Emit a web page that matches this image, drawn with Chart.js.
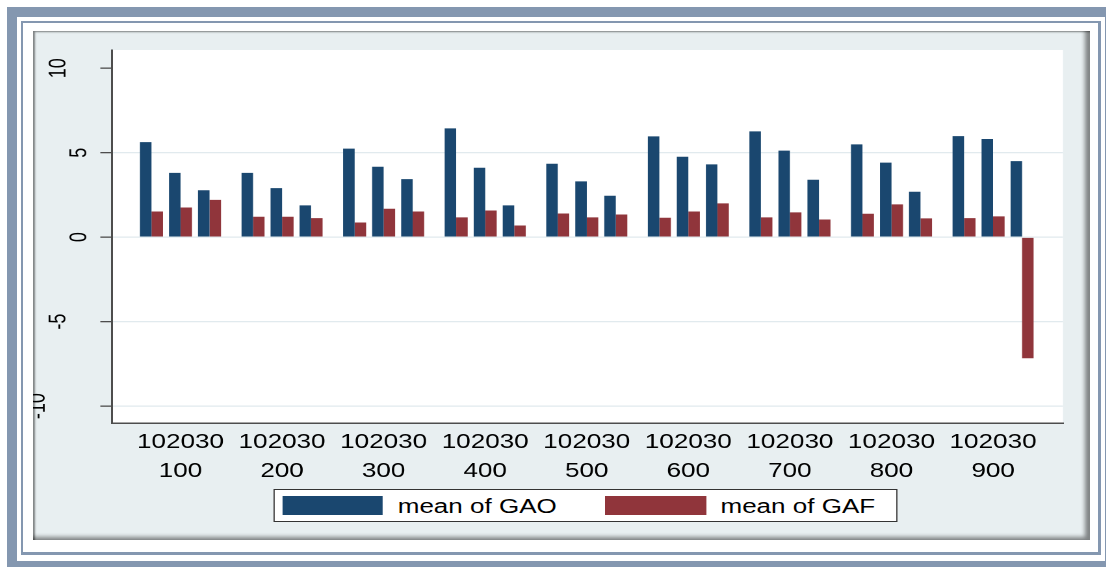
<!DOCTYPE html>
<html><head><meta charset="utf-8">
<script src="https://cdn.jsdelivr.net/npm/chart.js@4.4.1/dist/chart.umd.min.js"></script>
<style>
html,body{margin:0;padding:0;background:#fff;width:1106px;height:567px;overflow:hidden;position:relative}
#outer{position:absolute;left:7px;top:7px;width:1108px;height:564px;border:10px solid #8497b0;box-sizing:border-box}
#thin{position:absolute;left:21px;top:21px;width:1080px;height:534px;border-style:solid;border-color:#8497b0;border-width:2px 3px 3px 2px;box-sizing:border-box}
#panel{position:absolute;left:33px;top:31px;width:1057px;height:509px;background:#e8eff1;box-shadow:inset 2px 1px 2px rgba(0,0,0,.45), inset -5px -3px 4px rgba(0,0,0,.45)}
#wrap{position:absolute;left:33px;top:32px;width:809px;height:505px;transform:scaleX(1.3);transform-origin:0 0}
#cwrap{position:absolute;left:0;top:0;width:809px;height:505px}
#legend{position:absolute;left:184.6px;top:457px;height:33px;box-sizing:border-box;border:1.2px solid #333;background:#fff;
  display:flex;align-items:center;padding:0 16px 0 6px;font-family:"Liberation Sans",Arial,sans-serif;font-size:20px;color:#000;white-space:nowrap}
#legend .item{display:flex;align-items:center}
#legend .item + .item{margin-left:37px}
#legend .sw{width:77.7px;height:19px;margin-right:11.3px}
#legend .tx{line-height:19px;position:relative;top:1px}
</style></head>
<body>
<div id="outer"></div><div id="thin"></div><div id="panel"></div>
<div id="wrap"><div id="cwrap"><canvas id="c"></canvas></div><div id="legend"></div></div>
<script>
const groups = ['100','200','300','400','500','600','700','800','900'];
const subgroups = ['10','20','30'];
const gao = [
  [5.63,3.81,2.78],[3.81,2.90,1.88],[5.24,4.17,3.44],[6.44,4.11,1.88],[4.35,3.30,2.45],
  [5.97,4.76,4.31],[6.26,5.12,3.40],[5.49,4.41,2.69],[5.98,5.81,4.50]
];
const gaf = [
  [1.52,1.76,2.21],[1.21,1.21,1.13],[0.87,1.68,1.52],[1.17,1.58,0.69],[1.40,1.17,1.34],
  [1.15,1.52,2.00],[1.17,1.47,1.05],[1.39,1.94,1.11],[1.13,1.23,-7.17]
];
const yTickValues = [-10,-5,0,5,10];
const yTickLabels = ['-10','-5','0','5','10'];
const seriesNames = ['mean of GAO','mean of GAF'];
const seriesColors = ['#1a476f','#90353b'];

// positions: each group = 3 subgroups + half-slot gap
const GROUP_STEP = 3.5;
const xPos = [], xLabels = [];
groups.forEach((g, gi) => subgroups.forEach((s, si) => {
  xPos.push(gi * GROUP_STEP + si);
  xLabels.push(si === 1 ? [s, g] : [s, '']);
}));
const toPoints = arr => arr.flatMap((row, gi) => row.map((v, si) => ({x: gi * GROUP_STEP + si, y: v})));

Chart.defaults.font.family = '"Liberation Sans", Arial, sans-serif';
Chart.defaults.color = '#000';

const plotBg = {
  id: 'plotBg',
  beforeDraw(chart) {
    const {ctx, chartArea: a} = chart;
    ctx.save();
    ctx.fillStyle = '#fff';
    ctx.fillRect(a.left, a.top, a.right - a.left, a.bottom - a.top);
    ctx.restore();
  }
};

new Chart(document.getElementById('c'), {
  type: 'bar',
  data: {
    datasets: [
      {label: seriesNames[0], data: toPoints(gao), backgroundColor: seriesColors[0], borderWidth: 0},
      {label: seriesNames[1], data: toPoints(gaf), backgroundColor: seriesColors[1], borderWidth: 0}
    ]
  },
  options: {
    responsive: true,
    maintainAspectRatio: false,
    animation: false,
    devicePixelRatio: 2,
    categoryPercentage: 0.793,
    barPercentage: 1.0,
    layout: {padding: {left: 0, right: 16.7, top: 18, bottom: 52}},
    plugins: {
      tooltip: {enabled: false},
      legend: {display: false}
    },
    scales: {
      x: {
        type: 'linear',
        min: -1.36,
        max: 31.41,
        offset: false,
        grid: {display: true, drawOnChartArea: false, drawTicks: false},
        border: {display: true, color: '#4d4d4d', width: 1.5},
        afterBuildTicks: axis => { axis.ticks = xPos.map(v => ({value: v})); },
        afterFit: axis => { axis.height = 62; axis.paddingLeft = 0; axis.paddingRight = 0; },
        ticks: {
          autoSkip: false, maxRotation: 0, minRotation: 0, padding: 5,
          color: '#000', font: {size: 20, lineHeight: 1.45},
          callback: (v, i) => xLabels[i]
        }
      },
      y: {
        min: -11.0,
        max: 11.08,
        afterBuildTicks: axis => { axis.ticks = yTickValues.map(v => ({value: v})); },
        afterFit: axis => { axis.width = 60.77; axis.paddingTop = 0; axis.paddingBottom = 0; },
        grid: {
          color: c => (c.tick && c.tick.value === 10) ? 'rgba(0,0,0,0)' : '#e1eaee',
          tickColor: '#4d4d4d', tickLength: 9, lineWidth: 1.3
        },
        border: {display: true, color: '#4d4d4d', width: 1.5},
        ticks: {
          minRotation: 90, maxRotation: 90, crossAlign: 'center', padding: 2.6,
          color: '#000', font: {size: 18, lineHeight: 1.78},
          callback: (v) => {
            const lbl = yTickLabels[yTickValues.indexOf(v)];
            const pad = Math.max(0, lbl.length - 1);
            return [lbl].concat(Array(pad).fill(''));
          }
        }
      }
    }
  },
  plugins: [plotBg]
});

// legend (HTML, built from the series arrays)
const lg = document.getElementById('legend');
seriesNames.forEach((name, i) => {
  const it = document.createElement('div'); it.className = 'item';
  const sw = document.createElement('div'); sw.className = 'sw'; sw.style.background = seriesColors[i];
  const tx = document.createElement('span'); tx.className = 'tx'; tx.textContent = name;
  it.appendChild(sw); it.appendChild(tx); lg.appendChild(it);
});
</script>
</body></html>
